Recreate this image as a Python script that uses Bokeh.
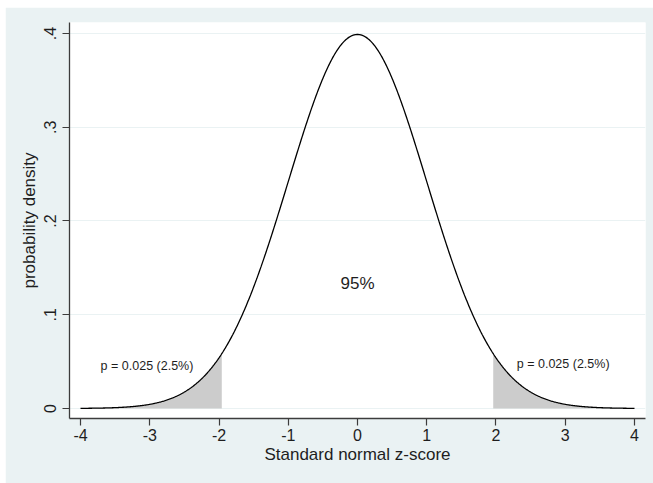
import numpy as np
from bokeh.plotting import figure
from bokeh.models import Range1d, FixedTicker, Label
from bokeh.embed import file_html
from bokeh.resources import INLINE

# ---- data ----
x_ticks = [-4, -3, -2, -1, 0, 1, 2, 3, 4]
x_tick_labels = ["-4", "-3", "-2", "-1", "0", "1", "2", "3", "4"]
y_ticks = [0, 0.1, 0.2, 0.3, 0.4]
y_tick_labels = ["0", ".1", ".2", ".3", ".4"]
curve_lo, curve_hi = -4.0, 4.0          # range of the plotted density
z_crit = 1.96                            # two-sided 5% cutoff
mu, sigma = 0.0, 1.0                     # standard normal
center_text = "95%"
tail_text = "p = 0.025 (2.5%)"

# the chart is a plot of the standard normal density function
xs = np.linspace(curve_lo, curve_hi, 801)
ys = np.exp(-0.5 * ((xs - mu) / sigma) ** 2) / (sigma * np.sqrt(2 * np.pi))
left_mask = xs <= -z_crit
right_mask = xs >= z_crit

FONT = "Liberation Sans"
BG = "#eaf2f3"
INK = "#1e1e1e"

p = figure(width=648, height=476, output_backend="svg", toolbar_location=None,
           x_range=Range1d(-4.159, 4.159), y_range=Range1d(-0.0107, 0.4117),
           min_border_left=64, min_border_right=8, min_border_top=15, min_border_bottom=65)
p.margin = (7, 0, 0, 5)
p.border_fill_color = BG
p.background_fill_color = "white"
p.outline_line_color = None

# shaded tails
xl = xs[left_mask]; yl = ys[left_mask]
xr = xs[right_mask]; yr = ys[right_mask]
p.varea(x=xl, y1=np.zeros_like(xl), y2=yl, fill_color="#cccccc")
p.varea(x=xr, y1=np.zeros_like(xr), y2=yr, fill_color="#cccccc")
p.line(xs, ys, line_color="#000000", line_width=1.3)

# axes
p.xaxis.ticker = FixedTicker(ticks=x_ticks)
p.xaxis.major_label_overrides = {t: l for t, l in zip(x_ticks, x_tick_labels)}
p.yaxis.ticker = FixedTicker(ticks=y_ticks)
p.yaxis.major_label_overrides = {t: l for t, l in zip(y_ticks, y_tick_labels)}
p.yaxis.major_label_orientation = "vertical"
for ax in (p.xaxis, p.yaxis):
    ax.axis_line_color = "#3c3c3c"
    ax.axis_line_width = 1.3
    ax.major_tick_line_color = "#3c3c3c"
    ax.major_tick_line_width = 1.2
    ax.major_tick_out = 7
    ax.major_tick_in = 0
    ax.minor_tick_line_color = None
    ax.major_label_text_font = FONT
    ax.major_label_text_font_size = "16px"
    ax.major_label_text_color = INK
    ax.axis_label_text_font = FONT
    ax.axis_label_text_font_size = "17px"
    ax.axis_label_text_font_style = "normal"
    ax.axis_label_text_color = INK
p.xaxis.axis_label = "Standard normal z-score"
p.yaxis.axis_label = "probability density"
p.xaxis.major_label_standoff = 3
p.xaxis.axis_label_standoff = 1
p.yaxis.major_label_standoff = 7
p.yaxis.axis_label_standoff = 2

p.xgrid.grid_line_color = None
p.ygrid.grid_line_color = BG
p.ygrid.grid_line_width = 1.2

# annotations
p.add_layout(Label(x=0, y=0.133, text=center_text, text_align="center", text_baseline="middle",
                   text_font=FONT, text_font_size="17px", text_color=INK))
p.add_layout(Label(x=-3.04, y=0.045, text=tail_text, text_align="center", text_baseline="middle",
                   text_font=FONT, text_font_size="12.5px", text_color=INK))
p.add_layout(Label(x=2.97, y=0.047, text=tail_text, text_align="center", text_baseline="middle",
                   text_font=FONT, text_font_size="12.5px", text_color=INK))

open("out.html", "w").write(file_html(p, INLINE))
